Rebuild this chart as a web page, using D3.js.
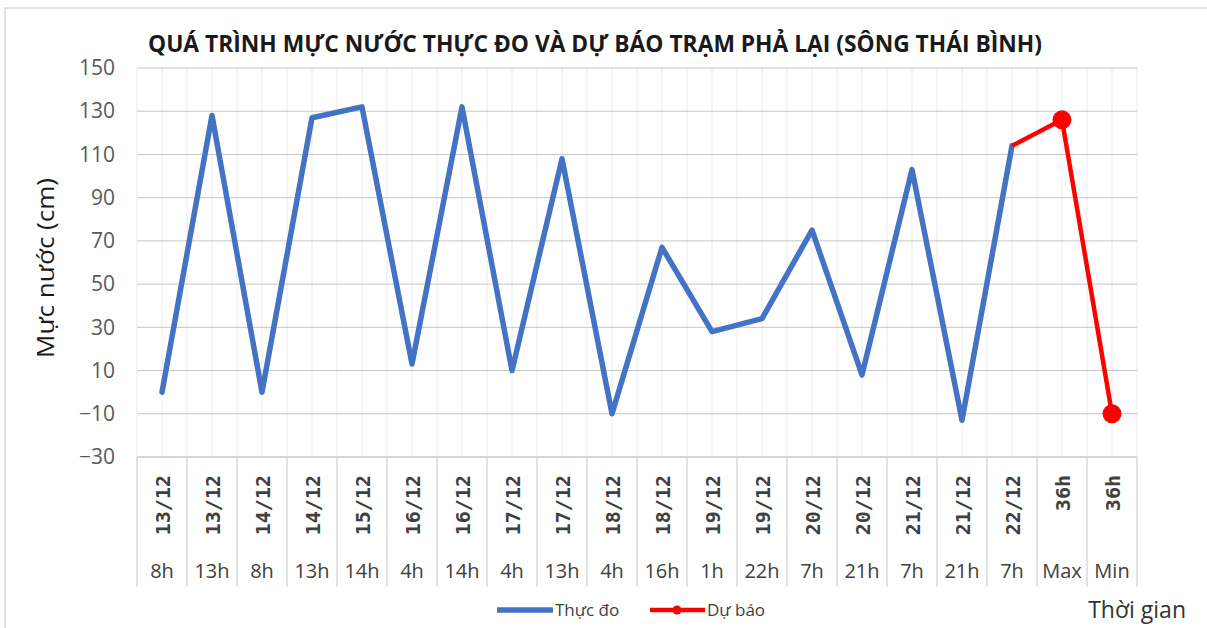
<!DOCTYPE html>
<html>
<head>
<meta charset="utf-8">
<script src="https://cdnjs.cloudflare.com/ajax/libs/d3/7.8.5/d3.min.js"></script>
<style>
  body { margin: 0; background: #fff; }
  text { font-family: "Open Sans", "Noto Sans", sans-serif; }
</style>
</head>
<body>
<div id="chart"></div>
<script>
// categories: date row (rotated) and hour row
var dates = ["13/12", "13/12", "14/12", "14/12", "15/12", "16/12", "16/12", "17/12", "17/12", "18/12",
             "18/12", "19/12", "19/12", "20/12", "20/12", "21/12", "21/12", "22/12", "36h", "36h"];
var hours = ["8h", "13h", "8h", "13h", "14h", "4h", "14h", "4h", "13h", "4h",
             "16h", "1h", "22h", "7h", "21h", "7h", "21h", "7h", "Max", "Min"];

// measured water level (cm), one per category up to 22/12 7h
var thucDo = [0, 128, 0, 127, 132, 13, 132, 10, 108, -10, 67, 28, 34, 75, 8, 103, -13, 114];
// forecast: starts at 22/12 7h, then Max and Min
var duBaoIdx = [17, 18, 19];
var duBao = [114, 126, -10];

var yTicks = [-30, -10, 10, 30, 50, 70, 90, 110, 130, 150];

var W = 1207, H = 628;
var plot = { left: 137, right: 1137, top: 68, bottom: 457 };

var svg = d3.select("#chart").append("svg")
    .attr("width", W)
    .attr("height", H);

// outer frame
svg.append("rect")
    .attr("x", 5).attr("y", 8)
    .attr("width", 1230).attr("height", 640)
    .attr("fill", "#fff")
    .attr("stroke", "#d9d9d9")
    .attr("stroke-width", 1.5);

var x = d3.scaleBand()
    .domain(d3.range(dates.length))
    .range([plot.left, plot.right]);

var y = d3.scaleLinear()
    .domain([-30, 150])
    .range([plot.bottom, plot.top]);

var cx = function(i) { return x(i) + x.bandwidth() / 2; };

// vertical grid (category edges and centres)
var vlines = [];
d3.range(dates.length).forEach(function(i) {
  vlines.push(x(i));
  vlines.push(cx(i));
});
vlines.push(plot.right);

svg.append("g")
  .selectAll("line")
  .data(vlines)
  .enter().append("line")
    .attr("x1", function(d) { return d; })
    .attr("x2", function(d) { return d; })
    .attr("y1", plot.top)
    .attr("y2", plot.bottom)
    .attr("stroke", "#ebebeb")
    .attr("stroke-width", 1);

// horizontal grid
svg.append("g")
  .selectAll("line")
  .data(yTicks)
  .enter().append("line")
    .attr("x1", plot.left)
    .attr("x2", plot.right)
    .attr("y1", function(d) { return y(d); })
    .attr("y2", function(d) { return y(d); })
    .attr("stroke", "#c6c6c6")
    .attr("stroke-width", 1);

// y axis labels
var yAxis = d3.axisLeft(y).tickValues(yTicks).tickSize(0).tickPadding(22);
var gy = svg.append("g")
    .attr("transform", "translate(" + plot.left + ",0)")
    .call(yAxis);
gy.select(".domain").remove();
gy.selectAll("text")
    .attr("font-size", 21)
    .attr("fill", "#595959")
    .style("font-family", "'Open Sans', sans-serif");

// category area dividers
var dividers = d3.range(dates.length + 1).map(function(i) {
  return i < dates.length ? x(i) : plot.right;
});
svg.append("g")
  .selectAll("line")
  .data(dividers)
  .enter().append("line")
    .attr("x1", function(d) { return d; })
    .attr("x2", function(d) { return d; })
    .attr("y1", plot.bottom)
    .attr("y2", 587)
    .attr("stroke", "#d9d9d9")
    .attr("stroke-width", 1.5);

// axis baseline
svg.append("line")
    .attr("x1", plot.left).attr("x2", plot.right)
    .attr("y1", plot.bottom).attr("y2", plot.bottom)
    .attr("stroke", "#d0d0d0")
    .attr("stroke-width", 1.5);

// date labels (rotated)
svg.append("g")
  .selectAll("text")
  .data(dates)
  .enter().append("text")
    .attr("transform", function(d, i) {
      return "translate(" + (cx(i) + 7.5) + ",475) rotate(-90)";
    })
    .attr("text-anchor", "end")
    .attr("font-size", 20)
    .attr("fill", "#404040")
    .style("font-family", "'DejaVu Sans Mono', monospace")
    .style("font-weight", "bold")
    .text(function(d) { return d; });

// hour labels
svg.append("g")
  .selectAll("text")
  .data(hours)
  .enter().append("text")
    .attr("x", function(d, i) { return cx(i); })
    .attr("y", 578)
    .attr("text-anchor", "middle")
    .attr("font-size", 20)
    .attr("fill", "#404040")
    .text(function(d) { return d; });

var line = d3.line()
    .x(function(d) { return cx(d[0]); })
    .y(function(d) { return y(d[1]); });

// measured series
svg.append("path")
    .datum(thucDo.map(function(v, i) { return [i, v]; }))
    .attr("d", line)
    .attr("fill", "none")
    .attr("stroke", "#4472c4")
    .attr("stroke-width", 5.5)
    .attr("stroke-linejoin", "round")
    .attr("stroke-linecap", "round");

// forecast series
var fc = duBao.map(function(v, i) { return [duBaoIdx[i], v]; });
svg.append("path")
    .datum(fc)
    .attr("d", line)
    .attr("fill", "none")
    .attr("stroke", "#ff0000")
    .attr("stroke-width", 4.5)
    .attr("stroke-linejoin", "round");

svg.append("g")
  .selectAll("circle")
  .data(fc.slice(1))
  .enter().append("circle")
    .attr("cx", function(d) { return cx(d[0]); })
    .attr("cy", function(d) { return y(d[1]); })
    .attr("r", 9.5)
    .attr("fill", "#ff0000");

// title
svg.append("text")
    .attr("x", 148)
    .attr("y", 52)
    .attr("font-size", 23)
    .attr("font-weight", "bold")
    .attr("fill", "#1a1a1a")
    .attr("textLength", 894)
    .attr("lengthAdjust", "spacingAndGlyphs")
    .text("QUÁ TRÌNH MỰC NƯỚC THỰC ĐO VÀ DỰ BÁO TRẠM PHẢ LẠI (SÔNG THÁI BÌNH)");

// y axis title
svg.append("text")
    .attr("transform", "translate(54,268) rotate(-90)")
    .attr("text-anchor", "middle")
    .attr("font-size", 24)
    .attr("fill", "#1a1a1a")
    .attr("textLength", 180)
    .attr("lengthAdjust", "spacingAndGlyphs")
    .text("Mực nước (cm)");

// x axis title
svg.append("text")
    .attr("x", 1186)
    .attr("y", 618)
    .attr("text-anchor", "end")
    .attr("font-size", 23)
    .attr("fill", "#333")
    .text("Thời gian");

// legend
var legend = svg.append("g");
legend.append("line")
    .attr("x1", 497).attr("x2", 553)
    .attr("y1", 610).attr("y2", 610)
    .attr("stroke", "#4472c4").attr("stroke-width", 5.5);
legend.append("text")
    .attr("x", 555).attr("y", 616)
    .attr("font-size", 17).attr("fill", "#404040")
    .text("Thực đo");
legend.append("line")
    .attr("x1", 650).attr("x2", 705)
    .attr("y1", 610).attr("y2", 610)
    .attr("stroke", "#ff0000").attr("stroke-width", 4.5);
legend.append("circle")
    .attr("cx", 677).attr("cy", 610).attr("r", 4.5)
    .attr("fill", "#ff0000");
legend.append("text")
    .attr("x", 707).attr("y", 616)
    .attr("font-size", 17).attr("fill", "#404040")
    .text("Dự báo");
</script>
</body>
</html>
